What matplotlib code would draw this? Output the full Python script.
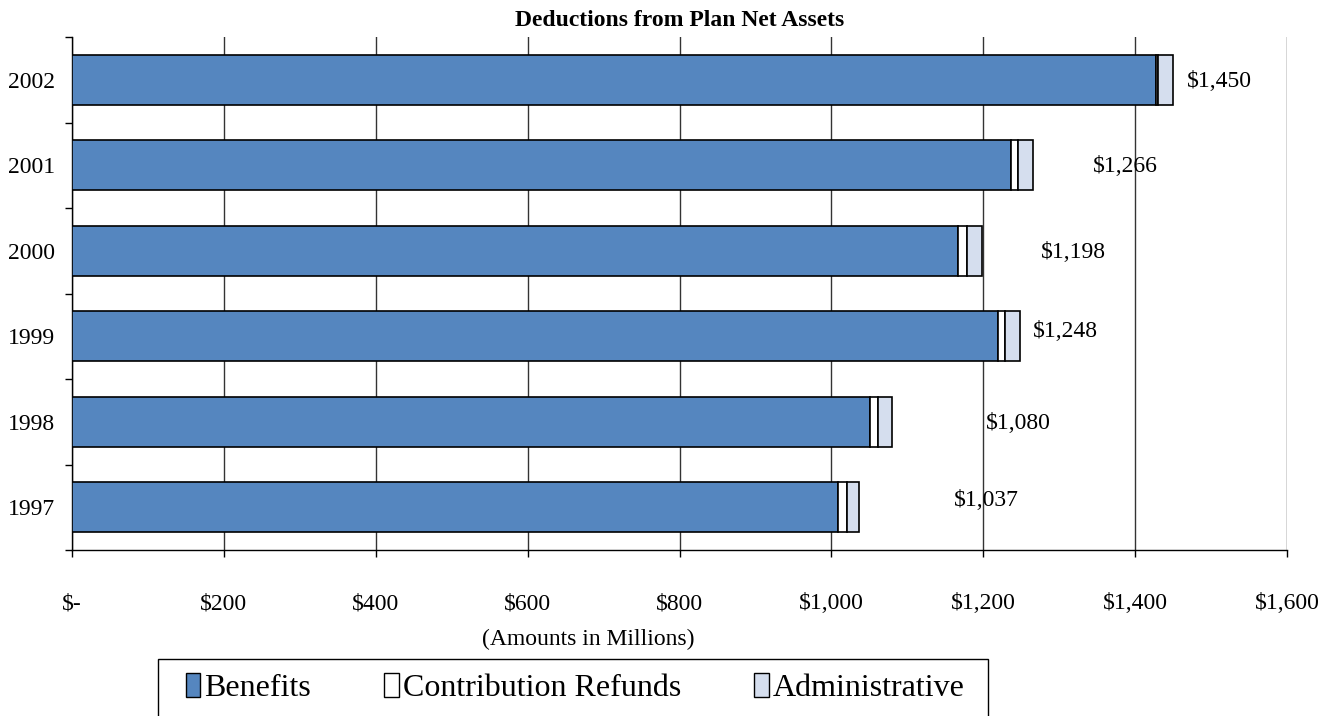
import matplotlib.pyplot as plt
import numpy as np
from matplotlib.patches import Patch, Rectangle

plt.rcParams['font.family'] = ['Liberation Serif', 'DejaVu Serif']

# 扣除项（百万美元）
years = ['1997', '1998', '1999', '2000', '2001', '2002']
benefits = [1009, 1051, 1220, 1167, 1237, 1427]
refunds = [12, 11, 9, 11, 9, 3]
admin = [16, 18, 19, 20, 20, 20]
totals = [1037, 1080, 1248, 1198, 1266, 1450]
tick_vals = [0, 200, 400, 600, 800, 1000, 1200, 1400, 1600]
tick_labels = ['$-', '$200', '$400', '$600', '$800', '$1,000', '$1,200', '$1,400', '$1,600']

# 数据标签离柱子末端的距离 / 上下偏移
label_gap = [124, 124, 18, 78, 78, 18]
label_dy = [0.08, -0.02, 0.06, -0.02, -0.02, -0.02]

fig = plt.figure(figsize=(13.3, 7.16), dpi=100)
ax = fig.add_axes([72/1330, 1 - 550/716, 1215/1330, 513/716])

y = np.arange(len(years))
h = 0.58
c_ben = '#5586BF'
c_adm = '#D5DEEE'

ax.barh(y, benefits, height=h, color=c_ben, edgecolor='black', linewidth=1.2, zorder=3)
left2 = np.array(benefits)
ax.barh(y, refunds, left=left2, height=h, color='white', edgecolor='black', linewidth=1.2, zorder=3)
left3 = left2 + np.array(refunds)
ax.barh(y, admin, left=left3, height=h, color=c_adm, edgecolor='black', linewidth=1.2, zorder=3)

for i in range(len(years)):
    ax.text(totals[i] + label_gap[i], y[i] + label_dy[i], '$' + format(totals[i], ','),
            va='center', ha='left', fontsize=17)

ax.set_xlim(0, 1600)
ax.set_ylim(-0.5, 5.5)
ax.set_xticks(tick_vals)
ax.set_xticklabels(tick_labels, fontsize=17)
ax.set_yticks(y)
ax.set_yticklabels(years, fontsize=17)
ax.set_yticks(np.arange(-0.5, 6, 1), minor=True)
ax.tick_params(axis='y', which='major', length=0, pad=12)
ax.tick_params(axis='y', which='minor', length=5, direction='out', width=1)
ax.tick_params(axis='x', length=5, direction='out', width=1, pad=26)
ax.xaxis.grid(True, color='#333333', linewidth=1)
ax.set_axisbelow(True)
for s in ['top', 'right']:
    ax.spines[s].set_visible(False)
ax.spines['left'].set_linewidth(1)
ax.spines['bottom'].set_linewidth(1)

ax.set_title('Deductions from Plan Net Assets', fontsize=17, fontweight='bold', pad=8)
fig.text(588/1330, 1 - 639/716, '(Amounts in Millions)', fontsize=17, ha='center', va='center')

# 图例外框
fig.patches.append(Rectangle((158/1330, -0.05), 830/1330, 0.05 + 57/716,
                             transform=fig.transFigure, facecolor='white',
                             edgecolor='black', linewidth=1))

handles = [Patch(facecolor=c_ben, edgecolor='black', label='Benefits'),
           Patch(facecolor='white', edgecolor='black', label='Contribution Refunds'),
           Patch(facecolor=c_adm, edgecolor='black', label='Administrative')]
leg = fig.legend(handles=handles, loc='center left', bbox_to_anchor=(186/1330, 1 - 688/716),
                 ncol=3, fontsize=23, frameon=False,
                 handlelength=0.45, handleheight=0.8, handletextpad=0.12, columnspacing=2.3,
                 borderpad=0, borderaxespad=0)

fig.savefig('out.png', dpi=100)
